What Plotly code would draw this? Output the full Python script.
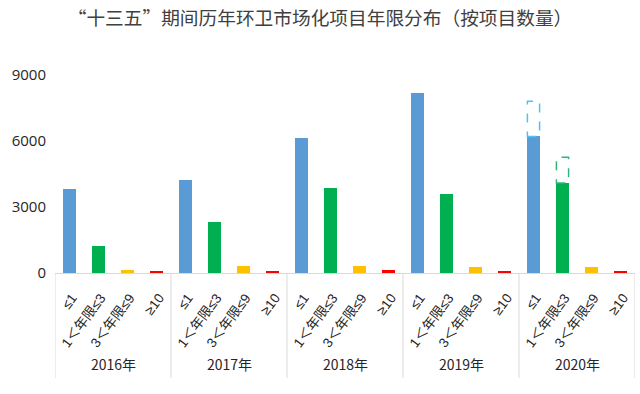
import plotly.graph_objects as go

years = ["2016年", "2017年", "2018年", "2019年", "2020年"]
categories = ["≤1", "1＜年限≤3", "3＜年限≤9", "≥10"]
v_le1 = [3840, 4240, 6150, 8160, 6210]
v_1_3 = [1220, 2340, 3850, 3570, 4090]
v_3_9 = [150, 320, 320, 290, 270]
v_ge10 = [100, 110, 150, 110, 100]
series = [v_le1, v_1_3, v_3_9, v_ge10]
colors = ["#5B9BD5", "#00B050", "#FFC000", "#FF0000"]
# 2020 projected (dashed outline) values
proj_2020 = [7810, 5260, None, None]
proj_colors = ["#4FC3EE", "#33B47A", None, None]
yticks = [0, 3000, 6000, 9000]

ncat = len(categories)
bar_w = 0.42

fig = go.Figure()
for ci, (cat, vals, col) in enumerate(zip(categories, series, colors)):
    xs = [yi * ncat + ci for yi in range(len(years))]
    fig.add_trace(go.Bar(x=xs, y=vals, name=cat, marker=dict(color=col, line=dict(width=0)),
                         width=bar_w, showlegend=False))

shapes = []
annotations = []
plot_h = 198.0
# dashed projection boxes for 2020
last = len(years) - 1
for ci in range(ncat):
    if proj_2020[ci] is not None:
        xc = last * ncat + ci
        shapes.append(dict(type="rect", xref="x", yref="y", x0=xc - bar_w / 2, x1=xc + bar_w / 2,
                           y0=series[ci][last], y1=proj_2020[ci],
                           line=dict(color=proj_colors[ci], width=1.5, dash="dash"),
                           fillcolor="rgba(0,0,0,0)"))

# group dividers
for g in range(len(years) + 1):
    shapes.append(dict(type="line", xref="x", yref="paper", x0=g * ncat - 0.5, x1=g * ncat - 0.5,
                       y0=0, y1=-105 / plot_h, line=dict(color="#D9D9D9", width=1)))

cat_font = dict(size=13.5, color="#262626", family="Liberation Sans, Noto Sans CJK SC, sans-serif")
year_font = dict(size=14, color="#262626", family="Noto Sans CJK SC, Noto Sans, sans-serif")
# category labels and year labels
for yi, yr in enumerate(years):
    for ci, cat in enumerate(categories):
        annotations.append(dict(x=yi * ncat + ci + 0.45, y=-15 / plot_h, xref="x", yref="paper",
                                text=cat, showarrow=False, textangle=-53,
                                xanchor="right", yanchor="top", font=cat_font))
    annotations.append(dict(x=yi * ncat + (ncat - 1) / 2, y=-91 / plot_h, xref="x", yref="paper",
                            text=yr, showarrow=False, xanchor="center", yanchor="middle",
                            font=year_font))

fig.update_layout(
    width=640, height=394,
    margin=dict(l=55, r=5, t=75, b=121),
    paper_bgcolor="white", plot_bgcolor="white",
    title=dict(text="“十三五”期间历年环卫市场化项目年限分布（按项目数量）",
               x=0.5, xanchor="center", y=1 - 18 / 394, yanchor="middle", yref="container",
               font=dict(size=18.7, color="#404040", family="Noto Sans CJK SC, sans-serif")),
    xaxis=dict(range=[-0.5, len(years) * ncat - 0.5], showticklabels=False, ticks="",
               showgrid=False, zeroline=False, showline=True, linecolor="#D9D9D9", linewidth=1),
    yaxis=dict(range=[0, 9000], tickvals=yticks, ticktext=[str(t) for t in yticks],
               showgrid=False, zeroline=False, showline=False, ticks="",
               ticklabelstandoff=8,
               tickfont=dict(size=15, color="#262626", family="Open Sans, Noto Sans, sans-serif")),
    shapes=shapes, annotations=annotations,
    bargap=0, showlegend=False,
)

fig.write_html("out.html", config={"displayModeBar": False},
               post_script="document.body.style.margin='0px';document.body.style.overflow='hidden';")
